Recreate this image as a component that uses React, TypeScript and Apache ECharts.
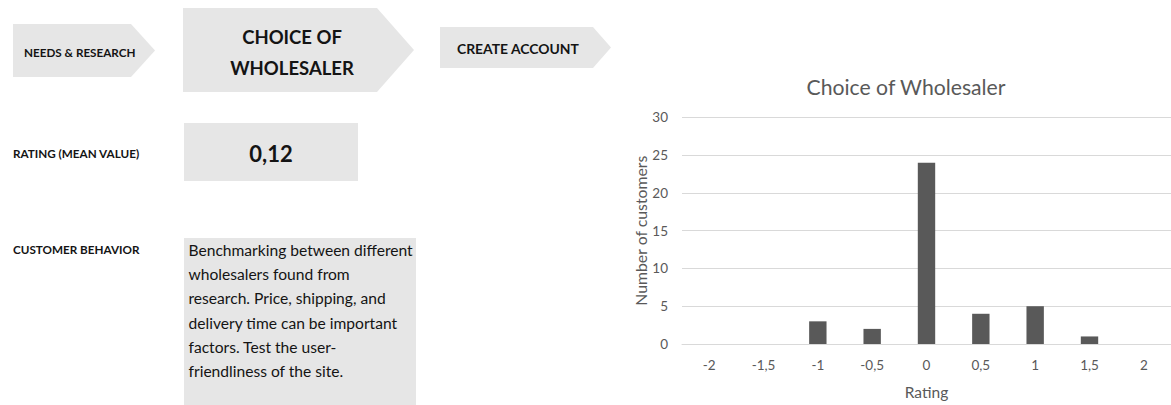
import React, { useEffect, useRef } from "react";
import * as echarts from "echarts";

// Histogram of customer ratings for the "choice of wholesaler" step
const ratingLabels = ["-2", "-1,5", "-1", "-0,5", "0", "0,5", "1", "1,5", "2"];
const customerCounts = [0, 0, 3, 2, 24, 4, 5, 1, 0];
const yTicks = { min: 0, max: 30, interval: 5 };

// Journey steps and the summary texts on the left
const journeySteps = ["NEEDS & RESEARCH", "CHOICE OF\nWHOLESALER", "CREATE ACCOUNT"];
const meanRating = "0,12";
const rowLabels = ["RATING (MEAN VALUE)", "CUSTOMER BEHAVIOR"];
const behaviorLines = [
  "Benchmarking between different",
  "wholesalers found from",
  "research. Price, shipping, and",
  "delivery time can be important",
  "factors. Test the user-",
  "friendliness of the site.",
];

const FONT = "Lato, 'Open Sans', sans-serif";
const BOX = "#e6e6e6";
const INK = "#141414";
const AXIS_GREY = "#595959";

function chevron(x0: number, y0: number, x1: number, tip: number, y1: number) {
  const mid = (y0 + y1) / 2;
  return {
    type: "polygon",
    shape: { points: [[x0, y0], [x1, y0], [tip, mid], [x1, y1], [x0, y1]] },
    style: { fill: BOX },
    silent: true,
  };
}

function label(text: string, x: number, y: number, size: number, weight: string, align = "left", lh = 1.75) {
  return {
    type: "text",
    x,
    y,
    silent: true,
    style: {
      text,
      fill: INK,
      fontSize: size,
      fontWeight: weight,
      fontFamily: FONT,
      textAlign: align,
      align,
      textVerticalAlign: "middle",
      verticalAlign: "middle",
      lineHeight: size * lh,
    },
  };
}

export default function App() {
  const ref = useRef<HTMLDivElement>(null);

  useEffect(() => {
    if (!ref.current) return;
    const chart = echarts.init(ref.current, undefined, { renderer: "svg" });

    const graphics: any[] = [
      chevron(13, 24, 131, 155, 77),
      chevron(183, 8, 377, 414, 92),
      chevron(440, 27, 593, 611, 68),
      { type: "rect", shape: { x: 184, y: 123, width: 174, height: 58 }, style: { fill: BOX }, silent: true },
      { type: "rect", shape: { x: 184, y: 238, width: 232, height: 170 }, style: { fill: BOX }, silent: true },
      label(journeySteps[0], 24, 51.5, 11.7, "bold"),
      label(journeySteps[1], 292, 52.5, 18.5, "bold", "center", 1.7),
      label(journeySteps[2], 457, 48.3, 13.9, "bold"),
      label(meanRating, 271, 153, 22, "bold", "center"),
      label(rowLabels[0], 13, 153.3, 11.7, "bold"),
      label(rowLabels[1], 13, 249, 11.7, "bold"),
      ...behaviorLines.map((line, i) => label(line, 188.5, 250 + i * 24.2, 15.6, "normal")),
    ];

    chart.setOption({
      animation: false,
      textStyle: { fontFamily: FONT },
      title: {
        text: "Choice of Wholesaler",
        left: 901,
        top: 82,
        textAlign: "center",
        textVerticalAlign: "middle",
        textStyle: { color: AXIS_GREY, fontSize: 21.2, fontWeight: "normal", fontFamily: FONT },
      },
      grid: { left: 682, top: 117.3, height: 227, right: -2.4, containLabel: false },
      xAxis: {
        type: "category",
        data: ratingLabels,
        axisLine: { show: true, lineStyle: { color: "#d9d9d9", width: 1 } },
        axisTick: { show: false },
        axisLabel: { color: AXIS_GREY, fontSize: 13.5, margin: 14, fontFamily: FONT },
        name: "Rating",
        nameLocation: "middle",
        nameGap: 40,
        nameTextStyle: { color: AXIS_GREY, fontSize: 15.5, fontFamily: FONT },
      },
      yAxis: {
        type: "value",
        min: yTicks.min,
        max: yTicks.max,
        interval: yTicks.interval,
        axisLine: { show: false },
        axisTick: { show: false },
        splitLine: { lineStyle: { color: "#d9d9d9", width: 1 } },
        axisLabel: { color: AXIS_GREY, fontSize: 13.5, margin: 14, fontFamily: FONT },
        name: "Number of customers",
        nameLocation: "middle",
        nameGap: 34,
        nameRotate: 90,
        nameTextStyle: { color: AXIS_GREY, fontSize: 15.8, fontFamily: FONT },
      },
      series: [
        {
          type: "bar",
          data: customerCounts,
          barWidth: "32%",
          itemStyle: { color: AXIS_GREY },
          silent: true,
        },
      ],
      graphic: graphics,
    });

    return () => chart.dispose();
  }, []);

  return (
    <div
      ref={ref}
      style={{ position: "absolute", left: 0, top: 0, width: 1171, height: 405, background: "#fff" }}
    />
  );
}
